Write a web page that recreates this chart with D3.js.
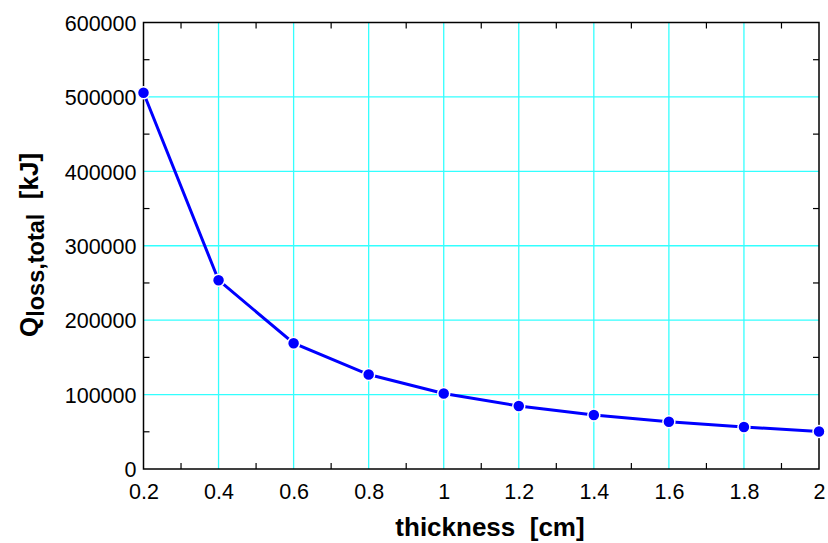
<!DOCTYPE html>
<html><head><meta charset="utf-8">
<script src="https://cdn.jsdelivr.net/npm/d3@7"></script>
<style>body{margin:0;background:#fff}svg{display:block}text{font-family:"Liberation Sans",Arial,sans-serif}</style>
</head><body>
<script>
const thickness = [0.2, 0.4, 0.6, 0.8, 1.0, 1.2, 1.4, 1.6, 1.8, 2.0];
const qLoss = [505600, 253700, 169000, 126900, 101500, 84600, 72500, 63400, 56400, 50300];
const xTicks = [0.2, 0.4, 0.6, 0.8, 1, 1.2, 1.4, 1.6, 1.8, 2];
const xMinor = [0.3, 0.5, 0.7, 0.9, 1.1, 1.3, 1.5, 1.7, 1.9];
const yTicks = [0, 100000, 200000, 300000, 400000, 500000, 600000];
const yMinor = [50000, 150000, 250000, 350000, 450000, 550000];

const W = 828, H = 543;
const m = {left: 143.5, right: 828 - 819, top: 22.5, bottom: 543 - 469};
const svg = d3.select("body").append("svg").attr("width", W).attr("height", H);
const x = d3.scaleLinear().domain([0.2, 2]).range([m.left, W - m.right]);
const y = d3.scaleLinear().domain([0, 600000]).range([H - m.bottom, m.top]);

// grid
const g = svg.append("g");
g.selectAll(".vg").data(xTicks.slice(1, -1)).join("line")
  .attr("x1", d => x(d)).attr("x2", d => x(d)).attr("y1", y(0)).attr("y2", y(600000))
  .attr("stroke", "#33ffff").attr("stroke-width", 1.3);
g.selectAll(".hg").data(yTicks.slice(1, -1)).join("line")
  .attr("y1", d => y(d)).attr("y2", d => y(d)).attr("x1", x(0.2)).attr("x2", x(2))
  .attr("stroke", "#33ffff").attr("stroke-width", 1.3);

// axes
const fmt = d3.format("d");
const axB = d3.axisBottom(x).tickValues(xTicks).tickFormat(d => String(d)).tickSize(0).tickPadding(15);
const axL = d3.axisLeft(y).tickValues(yTicks).tickFormat(fmt).tickSize(0).tickPadding(7);
const gb = svg.append("g").attr("transform", `translate(0,${y(0)})`).call(axB);
const gl = svg.append("g").attr("transform", `translate(${x(0.2)},0)`).call(axL);
[gb, gl].forEach(a => {
  a.select(".domain").remove();
  a.selectAll("text").attr("font-size", 21.5).attr("fill", "#000").style("font-family", '"Liberation Sans",Arial,sans-serif');
});
gb.selectAll("text").attr("dy", "0.71em");
gl.selectAll("text").attr("dy", "0.36em");

// minor ticks
const tk = svg.append("g").attr("stroke", "#000").attr("stroke-width", 1.2);
tk.selectAll(".mb").data(xMinor).join("line")
  .attr("x1", d => x(d)).attr("x2", d => x(d)).attr("y1", y(0)).attr("y2", y(0) - 6);
tk.selectAll(".mt").data(xMinor).join("line")
  .attr("x1", d => x(d)).attr("x2", d => x(d)).attr("y1", y(600000)).attr("y2", y(600000) + 6);
tk.selectAll(".ml").data(yMinor).join("line")
  .attr("y1", d => y(d)).attr("y2", d => y(d)).attr("x1", x(0.2)).attr("x2", x(0.2) + 6);
tk.selectAll(".mr").data(yMinor).join("line")
  .attr("y1", d => y(d)).attr("y2", d => y(d)).attr("x1", x(2)).attr("x2", x(2) - 6);

// frame
svg.append("rect").attr("x", x(0.2)).attr("y", y(600000)).attr("width", x(2) - x(0.2)).attr("height", y(0) - y(600000))
  .attr("fill", "none").attr("stroke", "#000").attr("stroke-width", 1.5);

// data
const data = thickness.map((t, i) => ({t, q: qLoss[i]}));
svg.append("path").datum(data)
  .attr("d", d3.line().x(d => x(d.t)).y(d => y(d.q)))
  .attr("fill", "none").attr("stroke", "#0000ff").attr("stroke-width", 3);
svg.selectAll(".pt").data(data).join("circle")
  .attr("cx", d => x(d.t)).attr("cy", d => y(d.q)).attr("r", 6)
  .attr("fill", "#0000ff").attr("stroke", "#fff").attr("stroke-width", 1.5);

// titles
svg.append("text").attr("x", 490).attr("y", 536)
  .attr("text-anchor", "middle").attr("font-size", 26).attr("font-weight", "bold")
  .style("white-space", "pre").text("thickness  [cm]");
const yt = svg.append("text").attr("transform", `translate(38,245) rotate(-90)`)
  .attr("text-anchor", "middle").attr("font-size", 26).attr("font-weight", "bold").style("white-space", "pre");
yt.append("tspan").text("Q");
yt.append("tspan").attr("font-size", 23.5).attr("dy", 6).text("loss,total");
yt.append("tspan").attr("dy", -6).text("  [kJ]");
</script>
</body></html>
